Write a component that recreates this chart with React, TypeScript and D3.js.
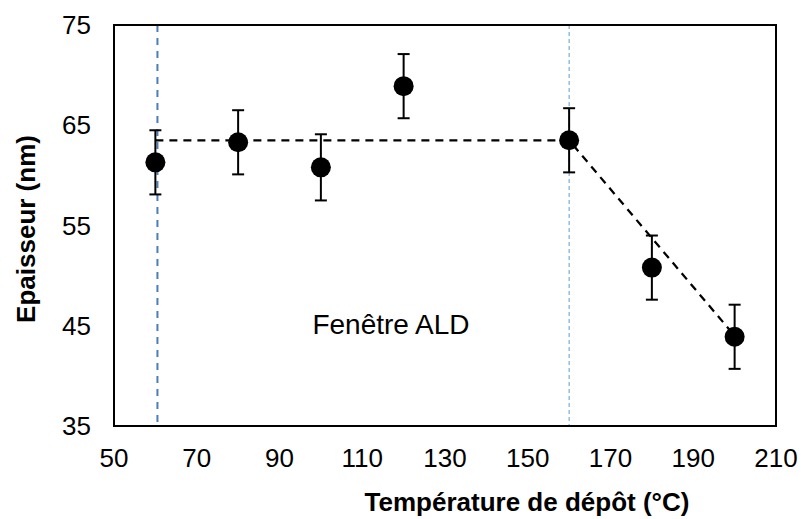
import React from "react";
import * as d3 from "d3";

const temperatures = [60, 80, 100, 120, 160, 180, 200];
const thickness = [61.3, 63.3, 60.8, 68.9, 63.5, 50.8, 43.9];
const errors = [3.2, 3.2, 3.3, 3.2, 3.2, 3.2, 3.2];
const trendX = [60, 160, 200];
const trendY = [63.5, 63.5, 44.0];
const windowBounds = [60.5, 160];
const xTicks = [50, 70, 90, 110, 130, 150, 170, 190, 210];
const yTicks = [35, 45, 55, 65, 75];

const W = 801;
const H = 519;
const m = { left: 114, top: 25, right: 776, bottom: 426 };
const FONT = "'Liberation Sans', Arial, sans-serif";

export default function App() {
  const x = d3.scaleLinear().domain([50, 210]).range([m.left, m.right]);
  const y = d3.scaleLinear().domain([35, 75]).range([m.bottom, m.top]);
  const trend = d3
    .line<number>()
    .x((_, i) => x(trendX[i]))
    .y((d) => y(d))(trendY) as string;

  return (
    <svg
      width={W}
      height={H}
      style={{ position: "absolute", left: 0, top: 0, background: "#fff" }}
      fontFamily={FONT}
    >
      <rect x={0} y={0} width={W} height={H} fill="#fff" />
      <line
        x1={x(windowBounds[0])}
        x2={x(windowBounds[0])}
        y1={m.top}
        y2={m.bottom}
        stroke="#4A7EBB"
        strokeWidth={2}
        strokeDasharray="7,6"
      />
      <line
        x1={x(windowBounds[1])}
        x2={x(windowBounds[1])}
        y1={m.top}
        y2={m.bottom}
        stroke="#5B9BD5"
        strokeWidth={1}
        strokeDasharray="4,3"
      />
      <path d={trend} fill="none" stroke="#000" strokeWidth={2.25} strokeDasharray="8,6" />
      {temperatures.map((t, i) => {
        const cx = x(t);
        const y1 = y(thickness[i] + errors[i]);
        const y2 = y(thickness[i] - errors[i]);
        return (
          <g key={t}>
            <line x1={cx} x2={cx} y1={y1} y2={y2} stroke="#000" strokeWidth={2} />
            <line x1={cx - 6} x2={cx + 6} y1={y1} y2={y1} stroke="#000" strokeWidth={2} />
            <line x1={cx - 6} x2={cx + 6} y1={y2} y2={y2} stroke="#000" strokeWidth={2} />
            <circle cx={cx} cy={y(thickness[i])} r={10} fill="#000" />
          </g>
        );
      })}
      <rect
        x={m.left}
        y={m.top}
        width={m.right - m.left}
        height={m.bottom - m.top}
        fill="none"
        stroke="#000"
        strokeWidth={2}
      />
      {xTicks.map((t) => (
        <text key={t} x={x(t)} y={467} textAnchor="middle" fontSize={26} fill="#000">
          {t}
        </text>
      ))}
      {yTicks.map((t) => (
        <text key={t} x={91} y={y(t) + 9} textAnchor="end" fontSize={26} fill="#000">
          {t}
        </text>
      ))}
      <text x={391} y={334} textAnchor="middle" fontSize={28} fill="#000">
        Fenêtre ALD
      </text>
      <text x={527} y={511} textAnchor="middle" fontSize={26} fontWeight="bold" fill="#000">
        Température de dépôt (°C)
      </text>
      <text
        transform={`translate(35,229) rotate(-90)`}
        textAnchor="middle"
        fontSize={26}
        fontWeight="bold"
        fill="#000"
      >
        Epaisseur (nm)
      </text>
    </svg>
  );
}
